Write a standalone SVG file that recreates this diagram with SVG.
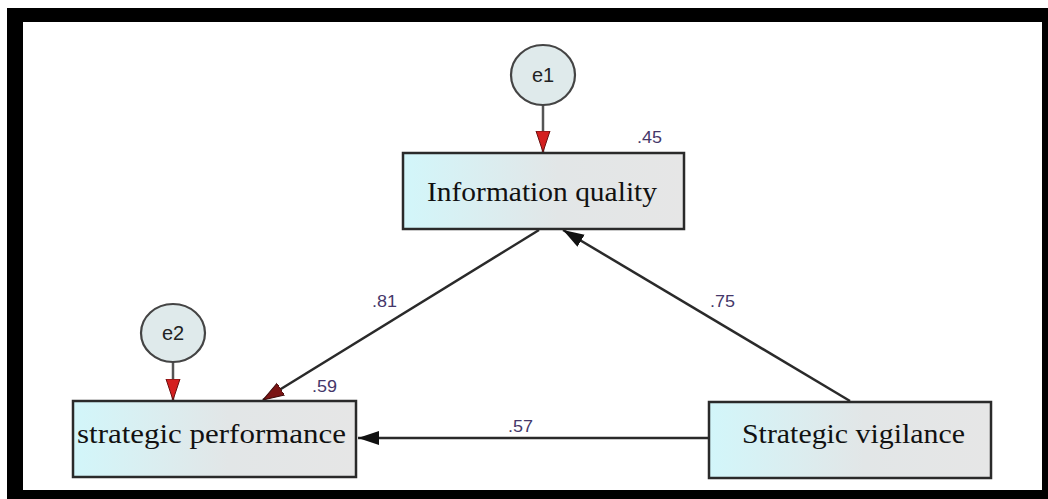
<svg xmlns="http://www.w3.org/2000/svg" width="1048" height="499" viewBox="0 0 1048 499">
<style>
.box{stroke:#2a2a2a;stroke-width:2.5;fill:url(#g)}
.lbl{font-family:"Liberation Serif","Times New Roman",serif;font-size:28px;fill:#111}
.coef{font-family:"Liberation Sans",Arial,sans-serif;font-size:17px;fill:#45376a}
.err{fill:#dfeaeb;stroke:#444;stroke-width:2.2}
.errt{font-family:"Liberation Sans",Arial,sans-serif;font-size:20px;fill:#222}
.ln{stroke:#2a2a2a;stroke-width:2.5;fill:none}
</style>
<defs>
<linearGradient id="g" x1="0" y1="0" x2="1" y2="0">
<stop offset="0" stop-color="#d2f6fa"/>
<stop offset="0.55" stop-color="#e2e6e7"/>
<stop offset="1" stop-color="#e6e6e6"/>
</linearGradient>
<marker id="ab" markerUnits="userSpaceOnUse" markerWidth="22" markerHeight="16" refX="21" refY="8" orient="auto">
<path d="M0,1 L21,8 L0,15 z" fill="#111"/>
</marker>
<marker id="ad" markerUnits="userSpaceOnUse" markerWidth="22" markerHeight="16" refX="21" refY="8" orient="auto">
<path d="M0,1 L21,8 L0,15 z" fill="#7a1414" stroke="#3a0a0a" stroke-width="1"/>
</marker>
<marker id="ar" markerUnits="userSpaceOnUse" markerWidth="22" markerHeight="16" refX="21" refY="8" orient="auto">
<path d="M0,1 L21,8 L0,15 z" fill="#d41f1f" stroke="#6a1010" stroke-width="1"/>
</marker>
</defs>
<rect x="7" y="8" width="1041" height="491" fill="#000"/>
<rect x="23" y="22" width="1019" height="468" fill="#fff"/>
<g id="connectors">
<line class="ln" x1="543" y1="105" x2="543" y2="152" marker-end="url(#ar)" style="stroke:#555"/>
<line class="ln" x1="173" y1="362" x2="173" y2="400" marker-end="url(#ar)" style="stroke:#555"/>
<line class="ln" x1="539" y1="230" x2="263" y2="400" marker-end="url(#ad)"/>
<line class="ln" x1="850" y1="401" x2="563" y2="230" marker-end="url(#ab)"/>
<line class="ln" x1="708" y1="438" x2="358" y2="438" marker-end="url(#ab)"/>
<text class="coef" x="372" y="307" textLength="25" lengthAdjust="spacingAndGlyphs">.81</text>
<text class="coef" x="710" y="307" textLength="25" lengthAdjust="spacingAndGlyphs">.75</text>
<text class="coef" x="508" y="432" textLength="25" lengthAdjust="spacingAndGlyphs">.57</text>
</g>
<g id="e1">
<ellipse class="err" cx="543" cy="75" rx="32" ry="30"/>
<text class="errt" x="543" y="82" text-anchor="middle">e1</text>
</g>
<g id="e2">
<ellipse class="err" cx="173" cy="333" rx="32" ry="29"/>
<text class="errt" x="173" y="340" text-anchor="middle">e2</text>
</g>
<g id="information-quality">
<rect class="box" x="403" y="153" width="281" height="76"/>
<text class="lbl" x="427" y="201" textLength="230" lengthAdjust="spacingAndGlyphs">Information quality</text>
<text class="coef" x="637" y="143" textLength="25" lengthAdjust="spacingAndGlyphs">.45</text>
</g>
<g id="strategic-performance">
<rect class="box" x="73" y="401" width="283" height="76"/>
<text class="lbl" x="77" y="443" textLength="269" lengthAdjust="spacingAndGlyphs">strategic performance</text>
<text class="coef" x="312" y="392" textLength="25" lengthAdjust="spacingAndGlyphs">.59</text>
</g>
<g id="strategic-vigilance">
<rect class="box" x="709" y="402" width="282" height="76"/>
<text class="lbl" x="742" y="443" textLength="223" lengthAdjust="spacingAndGlyphs">Strategic vigilance</text>
</g>
</svg>
